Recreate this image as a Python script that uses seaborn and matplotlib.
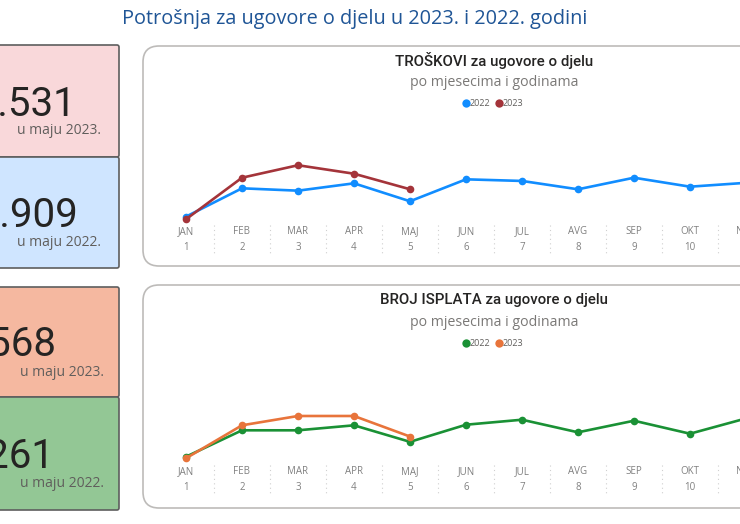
import matplotlib
matplotlib.use("Agg")
import matplotlib.pyplot as plt
import seaborn as sns
import pandas as pd
from matplotlib.patches import FancyBboxPatch
from matplotlib.lines import Line2D
from matplotlib import transforms, font_manager

sns.set_theme(style="white")
plt.rcParams['font.family'] = ['Open Sans', 'DejaVu Sans']

# ---------------- data ----------------
mjeseci = ["JAN", "FEB", "MAR", "APR", "MAJ", "JUN", "JUL", "AVG", "SEP", "OKT", "NOV"]
godine = ["2022", "2023"]
troskovi_2022 = [30600, 53300, 51400, 57300, 42909, 60500, 59200, 52500, 61800, 54600, 57700]
troskovi_2023 = [28500, 61800, 71800, 65000, 52531]
isplate_2022 = [400, 1930, 1930, 2220, 1261, 2254, 2544, 1814, 2486, 1733, 2619]
isplate_2023 = [310, 2220, 2760, 2760, 1568]
kpi_vrijednosti = ["52.531", "42.909", "1.568", "1.261"]
kpi_opisi = ["u maju 2023.", "u maju 2022.", "u maju 2023.", "u maju 2022."]
naslov = "Potrošnja za ugovore o djelu u 2023. i 2022. godini"
naslovi_grafika = ["TROŠKOVI za ugovore o djelu", "BROJ ISPLATA za ugovore o djelu"]
podnaslov = "po mjesecima i godinama"

def long_df(v22, v23):
    rows = []
    for i, v in enumerate(v22):
        rows.append({"mjesec": i + 1, "vrijednost": v, "godina": "2022"})
    for i, v in enumerate(v23):
        rows.append({"mjesec": i + 1, "vrijednost": v, "godina": "2023"})
    return pd.DataFrame(rows)

df_tr = long_df(troskovi_2022, troskovi_2023)
df_is = long_df(isplate_2022, isplate_2023)

# fonts
def has_font(name):
    try:
        font_manager.findfont(name, fallback_to_default=False)
        return True
    except Exception:
        return False

NUM_FONT = "Liberation Sans Narrow" if has_font("Liberation Sans Narrow") else "Roboto"

W, H = 740, 524
fig = plt.figure(figsize=(W / 100, H / 100), dpi=100)
fig.patch.set_facecolor("white")
T = fig.dpi_scale_trans

def Y(y):
    return (H - y) / 100

# title
fig.text(355 / 100, Y(19), naslov, transform=T, ha="center", va="center",
         fontsize=14.3, color="#1F5596")

# KPI cards
cards = [(45, 157, "#F9D8DA"), (157, 268, "#CFE5FF"), (287, 397, "#F5B8A0"), (397, 510, "#93C795")]
num_right = [77, 79, 57, 55]
lbl_right = [101, 101, 104, 104]
for (y0, y1, fc), val, opis, xr, xl in zip(cards, kpi_vrijednosti, kpi_opisi, num_right, lbl_right):
    p = FancyBboxPatch((-0.6, Y(y1)), 1.19 + 0.6, (y1 - y0) / 100,
                       boxstyle="round,pad=0,rounding_size=0.02",
                       transform=T, facecolor=fc, edgecolor="#5E5E5E", linewidth=1.2, zorder=-1)
    fig.patches.append(p)
    cy = (y0 + y1) / 2
    fig.text(xr / 100, Y(cy - 1), val, transform=T, ha="right", va="center_baseline",
             fontsize=29, color="#252423", family=[NUM_FONT, "DejaVu Sans"])
    fig.text(xl / 100, Y(cy + 30), opis, transform=T, ha="right", va="center",
             fontsize=10, color="#605E5C")

# chart boxes
for y0, y1 in [(46, 266), (285, 508)]:
    p = FancyBboxPatch((1.43, Y(y1)), 8.45 - 1.43, (y1 - y0) / 100,
                       boxstyle="round,pad=0,rounding_size=0.16",
                       transform=T, facecolor="white", edgecolor="#BDBBB9", linewidth=1.2, zorder=-1)
    fig.patches.append(p)

def draw_chart(df, rect, ylim, colors, title, ytitle, sep_y):
    ax = fig.add_axes(rect)
    ax.set_facecolor("none")
    sns.lineplot(data=df, x="mjesec", y="vrijednost", hue="godina", hue_order=godine,
                 palette=colors, marker="o", markersize=5.5, markeredgewidth=0,
                 linewidth=1.9, legend=False, ax=ax)
    ax.set_xlim(0.5, 12.5)
    ax.set_ylim(*ylim)
    ax.set_xticks(range(1, len(mjeseci) + 1))
    ax.set_xticklabels([f"{m}\n{i}" for i, m in enumerate(mjeseci, start=1)],
                       linespacing=1.55)
    ax.tick_params(axis="x", length=0, pad=2, labelsize=7, colors="#808080")
    ax.set_yticks([])
    ax.set_xlabel("")
    ax.set_ylabel("")
    for s in ax.spines.values():
        s.set_visible(False)
    bt = transforms.blended_transform_factory(ax.transData, T)
    for k in range(1, len(mjeseci)):
        ax.plot([k + 0.5, k + 0.5], [Y(sep_y[0]), Y(sep_y[1])], transform=bt,
                linestyle=(0, (1, 3)), color="#CFCFCF", linewidth=0.8, clip_on=False)
    fig.text(4.94, Y(ytitle), title, transform=T, ha="center", va="center",
             fontsize=10.8, fontweight="medium", color="#252423",
             family=["Roboto", "DejaVu Sans"])
    fig.text(4.94, Y(ytitle + 22), podnaslov, transform=T, ha="center", va="center",
             fontsize=10.2, color="#7A7876")
    handles = [Line2D([], [], marker="o", linestyle="none", color=colors[g],
                      markersize=6, markeredgewidth=0) for g in godine]
    fig.legend(handles, godine, loc="center", bbox_to_anchor=(4.93, Y(ytitle + 44)),
               bbox_transform=T, ncol=2, frameon=False, fontsize=6.5,
               handlelength=0.7, handletextpad=0.1, columnspacing=0.6,
               labelcolor="#605E5C", borderpad=0)
    return ax

draw_chart(df_tr, [158 / W, (H - 223.6) / H, 672 / W, (223.6 - 136.3) / H],
           (25000, 95000), {"2022": "#118DFF", "2023": "#A4343A"},
           naslovi_grafika[0], 60, (225, 253))
draw_chart(df_is, [158 / W, (H - 463.6) / H, 672 / W, (463.6 - 394.6) / H],
           (0, 4000), {"2022": "#1A9135", "2023": "#E8743B"},
           naslovi_grafika[1], 300, (465, 494))

fig.savefig("out.png", dpi=100)
